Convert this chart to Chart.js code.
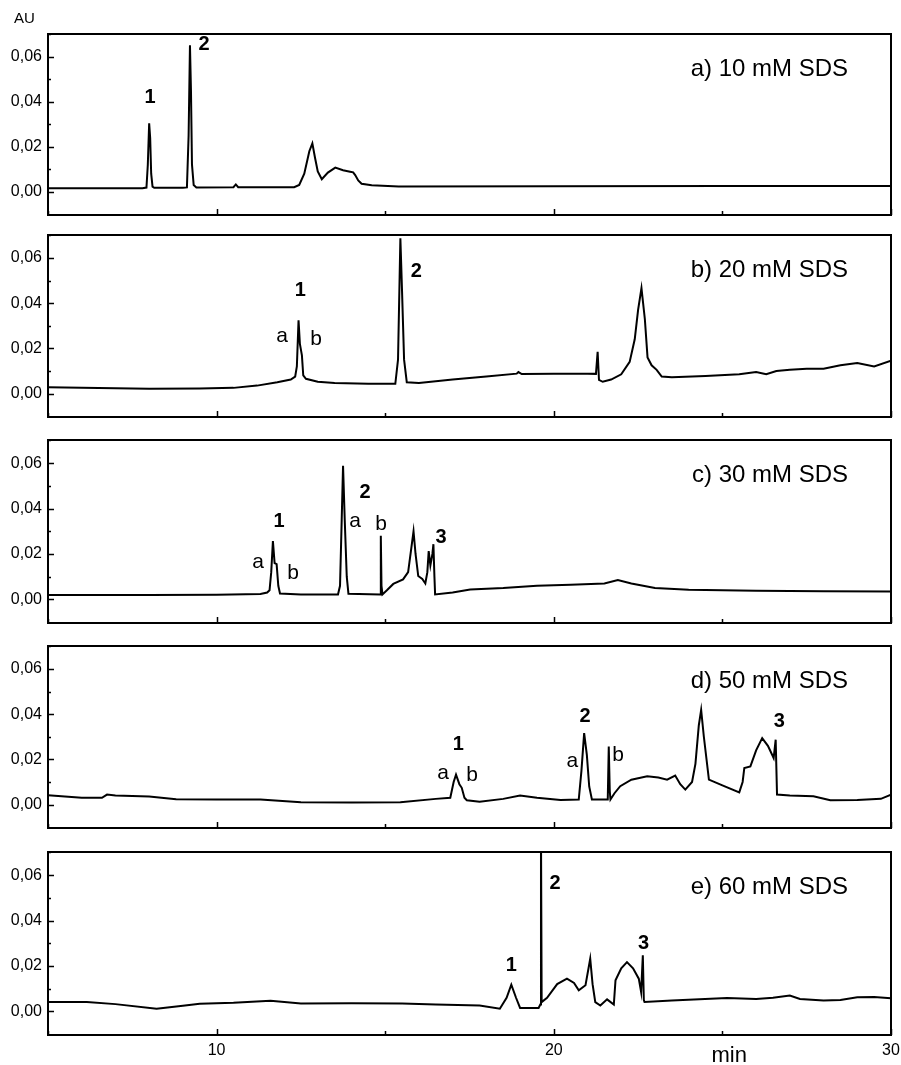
<!DOCTYPE html>
<html><head><meta charset="utf-8">
<script src="https://cdn.jsdelivr.net/npm/chart.js@4.4.1/dist/chart.umd.min.js"></script>
<style>
html,body{margin:0;padding:0;background:#fff;}
#wrap{position:relative;width:901px;height:1065px;overflow:hidden;background:#fff;}
.panel{position:absolute;left:0;width:901px;}
</style></head><body><div id="wrap"></div>
<script>
// ---------- DATA ----------
const xTickValues = [10, 20, 30];
const xTickLabels = ['10', '20', '30'];
const yTickValues = [0, 0.02, 0.04, 0.06];
const yTickLabels = ['0,00', '0,02', '0,04', '0,06'];
const panelTitles = ['a) 10 mM SDS', 'b) 20 mM SDS', 'c) 30 mM SDS', 'd) 50 mM SDS', 'e) 60 mM SDS'];

// a) 10 mM SDS
const timeA = [5.0,6.0,7.0,7.8,7.92,7.96,8.0,8.03,8.06,8.1,8.15,9.0,9.12,9.17,9.21,9.24,9.27,9.32,9.4,10.5,10.57,10.64,12.3,12.45,12.6,12.75,12.84,12.92,13.0,13.12,13.3,13.52,13.75,13.96,14.05,14.11,14.2,14.3,14.6,15.4,20,25,30];
const absA  = [0.0015,0.0015,0.0015,0.0015,0.0018,0.012,0.0304,0.024,0.008,0.0022,0.0017,0.0017,0.0019,0.025,0.0652,0.045,0.012,0.003,0.0019,0.002,0.0032,0.002,0.002,0.003,0.008,0.018,0.0215,0.015,0.009,0.0055,0.0085,0.0107,0.0095,0.0089,0.0086,0.0074,0.005,0.0035,0.0028,0.0023,0.0024,0.0025,0.0025];

// b) 20 mM SDS
const timeB = [5.0,6.5,8.0,9.5,10.5,11.2,11.8,12.2,12.33,12.38,12.43,12.47,12.53,12.57,12.65,13.0,13.5,14.5,15.3,15.38,15.45,15.5,15.56,15.64,16.0,17.0,18.0,18.9,18.95,19.05,20.0,21.0,21.25,21.3,21.34,21.45,21.7,22.0,22.25,22.4,22.5,22.6,22.7,22.78,22.9,23.05,23.2,23.5,24.5,25.5,26.0,26.3,26.6,27.0,27.5,28.0,28.5,29.0,29.5,30.0];
const absB  = [0.0028,0.0024,0.0021,0.0022,0.0025,0.0035,0.005,0.0062,0.0075,0.012,0.0324,0.022,0.0169,0.008,0.0065,0.0052,0.0047,0.0043,0.0043,0.015,0.0687,0.045,0.015,0.005,0.0047,0.0062,0.0075,0.0088,0.0095,0.0086,0.0088,0.0088,0.0087,0.0185,0.006,0.0052,0.0062,0.0085,0.014,0.024,0.037,0.0467,0.033,0.016,0.0125,0.0105,0.0075,0.0072,0.0078,0.0085,0.0095,0.0085,0.010,0.0105,0.011,0.011,0.0125,0.0135,0.012,0.0145];

// c) 30 mM SDS
const timeC = [5.0,8.0,10.0,11.3,11.5,11.57,11.62,11.67,11.72,11.78,11.83,11.88,12.5,13.6,13.66,13.71,13.75,13.8,13.86,13.91,14.85,14.87,14.89,14.92,15.05,15.24,15.53,15.68,15.84,15.9,15.98,16.1,16.19,16.25,16.29,16.34,16.4,16.43,16.46,16.48,17.0,17.52,18.5,19.5,20.5,21.5,21.9,22.3,23.0,24.0,26.0,28.0,30.0];
const absC  = [0.0019,0.0019,0.002,0.0024,0.003,0.004,0.012,0.0257,0.016,0.0155,0.006,0.0026,0.0022,0.0022,0.006,0.035,0.0588,0.035,0.01,0.0025,0.0022,0.028,0.006,0.0022,0.004,0.0068,0.0088,0.012,0.030,0.02,0.0103,0.009,0.007,0.012,0.0213,0.015,0.02,0.0243,0.01,0.0022,0.003,0.0044,0.005,0.006,0.0065,0.007,0.0085,0.007,0.005,0.0042,0.0038,0.0036,0.0035];

// d) 50 mM SDS
const timeD = [5.0,6.0,6.6,6.75,7.0,8.0,8.8,10.0,11.3,12.5,14.0,15.45,16.5,16.93,17.03,17.1,17.2,17.27,17.35,17.42,17.8,18.5,19.0,19.5,20.2,20.74,20.82,20.9,20.98,21.05,21.13,21.6,21.63,21.66,21.68,21.8,21.97,22.3,22.77,23.1,23.36,23.6,23.75,23.9,24.1,24.2,24.3,24.37,24.45,24.6,25.0,25.5,25.6,25.65,25.83,26.0,26.18,26.35,26.52,26.58,26.62,27.0,27.7,28.2,29.0,29.7,30.0];
const absD  = [0.0041,0.003,0.003,0.0044,0.004,0.0035,0.0023,0.0022,0.0022,0.001,0.0009,0.001,0.0025,0.003,0.01,0.0132,0.009,0.0074,0.003,0.0019,0.0012,0.0025,0.004,0.003,0.002,0.0022,0.015,0.0316,0.022,0.008,0.0022,0.0022,0.0257,0.006,0.0022,0.005,0.0081,0.011,0.0125,0.012,0.011,0.0128,0.009,0.0066,0.010,0.018,0.035,0.0419,0.030,0.011,0.0085,0.0054,0.010,0.0162,0.0169,0.024,0.0294,0.026,0.0206,0.0287,0.0044,0.004,0.0037,0.0019,0.002,0.0025,0.0044];

// e) 60 mM SDS
const timeE = [5.0,6.15,7.0,8.22,9.0,9.5,10.5,11.6,12.5,14.0,15.5,16.5,17.8,18.4,18.6,18.74,18.88,19.0,19.55,19.6,19.62,19.64,19.8,20.1,20.39,20.6,20.74,20.94,21.08,21.15,21.23,21.38,21.58,21.78,21.83,22.0,22.17,22.35,22.52,22.59,22.64,22.67,22.69,23.5,25.14,26.0,26.5,27.0,27.3,28.0,28.5,29.0,29.5,30.0];
const absE  = [0.0041,0.0041,0.0032,0.0012,0.0025,0.0034,0.0038,0.0047,0.0035,0.0036,0.0035,0.003,0.0026,0.0012,0.006,0.0118,0.006,0.0015,0.0015,0.003,0.08,0.0041,0.006,0.012,0.0144,0.0125,0.0093,0.0115,0.0232,0.012,0.0041,0.0026,0.0053,0.003,0.0137,0.019,0.0217,0.019,0.0144,0.0085,0.0247,0.005,0.0041,0.0048,0.0059,0.0055,0.006,0.007,0.0055,0.0048,0.005,0.0062,0.0063,0.0058];

// peak annotations (text, time, absorbance, bold)
const peaksA = [['1',8.03,0.042,true],['2',9.63,0.0656,true]];
const peaksB = [['1',12.48,0.0458,true],['a',11.94,0.0253,false],['b',12.95,0.024,false],['2',15.92,0.054,true]];
const peaksC = [['1',11.85,0.0344,true],['a',11.23,0.0163,false],['b',12.27,0.0115,false],['2',14.4,0.047,true],['a',14.11,0.0344,false],['b',14.88,0.033,false],['3',16.66,0.0273,true]];
const peaksD = [['1',17.17,0.0265,true],['a',16.72,0.0137,false],['b',17.58,0.0132,false],['2',20.93,0.039,true],['a',20.55,0.019,false],['b',21.91,0.022,false],['3',26.69,0.0366,true]];
const peaksE = [['1',18.74,0.0203,true],['2',20.04,0.0565,true],['3',22.66,0.030,true]];

// ---------- LAYOUT ----------
const FONT = "'Liberation Sans', Arial, Helvetica, sans-serif";
const panels = [
  {time: timeA, abs: absA, peaks: peaksA, title: panelTitles[0], top: 34,  bottom: 215,  padTop: 34, xh: 10, au: true},
  {time: timeB, abs: absB, peaks: peaksB, title: panelTitles[1], top: 235, bottom: 417,  padTop: 10, xh: 10},
  {time: timeC, abs: absC, peaks: peaksC, title: panelTitles[2], top: 440, bottom: 623,  padTop: 10, xh: 10},
  {time: timeD, abs: absD, peaks: peaksD, title: panelTitles[3], top: 646, bottom: 828,  padTop: 10, xh: 10},
  {time: timeE, abs: absE, peaks: peaksE, title: panelTitles[4], top: 852, bottom: 1035, padTop: 10, xh: 30, last: true}
];

function framePlugin(p) {
  return {
    id: 'frame',
    afterDraw(chart) {
      const ctx = chart.ctx, a = chart.chartArea;
      const xs = chart.scales.x, ys = chart.scales.y;
      ctx.save();
      ctx.strokeStyle = '#000';
      ctx.lineWidth = 2;
      ctx.strokeRect(a.left, a.top, a.right - a.left, a.bottom - a.top);
      ctx.lineWidth = 1.5;
      ctx.beginPath();
      yTickValues.forEach(v => {
        const y = Math.round(ys.getPixelForValue(v)) + 0.5;
        ctx.moveTo(a.left, y); ctx.lineTo(a.left + 6, y);
        const ym = Math.round(ys.getPixelForValue(v + 0.01)) + 0.5;
        ctx.moveTo(a.left, ym); ctx.lineTo(a.left + 3, ym);
      });
      xTickValues.forEach(v => {
        const x = Math.round(xs.getPixelForValue(v)) + 0.5;
        ctx.moveTo(x, a.bottom); ctx.lineTo(x, a.bottom - 6);
        const xm = Math.round(xs.getPixelForValue(v - 5)) + 0.5;
        ctx.moveTo(xm, a.bottom); ctx.lineTo(xm, a.bottom - 4);
      });
      ctx.stroke();
      ctx.fillStyle = '#000';
      ctx.textBaseline = 'middle';
      ctx.textAlign = 'right';
      ctx.font = '24px ' + FONT;
      ctx.fillText(p.title, 848, ys.getPixelForValue(0.0545));
      ctx.textAlign = 'center';
      p.peaks.forEach(([t, x, y, bold]) => {
        ctx.font = (bold ? 'bold 20px ' : '21px ') + FONT;
        ctx.fillText(t, xs.getPixelForValue(x), ys.getPixelForValue(y));
      });
      if (p.au) {
        ctx.font = '15px ' + FONT;
        ctx.textAlign = 'left';
        ctx.fillText('AU', 14, a.top - 15);
      }
      if (p.last) {
        ctx.font = '22px ' + FONT;
        ctx.textAlign = 'center';
        ctx.fillText('min', xs.getPixelForValue(25.2), a.bottom + 21);
      }
      ctx.restore();
    }
  };
}

const wrap = document.getElementById('wrap');
panels.forEach(p => {
  const div = document.createElement('div');
  div.className = 'panel';
  const h = (p.bottom - p.top) + p.padTop + p.xh;
  div.style.top = (p.top - p.padTop) + 'px';
  div.style.height = h + 'px';
  const cv = document.createElement('canvas');
  div.appendChild(cv);
  wrap.appendChild(div);
  const pts = p.time.map((t, i) => ({x: t, y: p.abs[i]}));
  new Chart(cv, {
    type: 'line',
    data: {datasets: [{data: pts, borderColor: '#000', borderWidth: 2, pointRadius: 0, tension: 0, fill: false, clip: 0}]},
    options: {
      responsive: true, maintainAspectRatio: false, animation: false,
      layout: {padding: {top: p.padTop, right: 10, left: 0, bottom: 0}},
      plugins: {legend: {display: false}, tooltip: {enabled: false}},
      scales: {
        x: {
          type: 'linear', min: 5, max: 30,
          afterBuildTicks: s => { s.ticks = xTickValues.map(v => ({value: v})); },
          afterFit: s => { s.height = p.xh; s.paddingLeft = 0; s.paddingRight = 0; },
          grid: {display: false, drawTicks: false}, border: {display: false},
          ticks: {display: !!p.last, autoSkip: false, maxRotation: 0, padding: 6, color: '#000',
                  font: {family: FONT, size: 16}, callback: (v, i) => xTickLabels[i]}
        },
        y: {
          type: 'linear', min: -0.0104, max: 0.0702,
          afterBuildTicks: s => { s.ticks = yTickValues.map(v => ({value: v})); },
          afterFit: s => { s.width = 48; s.paddingTop = 0; s.paddingBottom = 0; },
          grid: {display: false, drawTicks: false}, border: {display: false},
          ticks: {padding: 6, color: '#000', font: {family: FONT, size: 16}, callback: (v, i) => yTickLabels[i]}
        }
      }
    },
    plugins: [framePlugin(p)]
  });
});
</script></body></html>
